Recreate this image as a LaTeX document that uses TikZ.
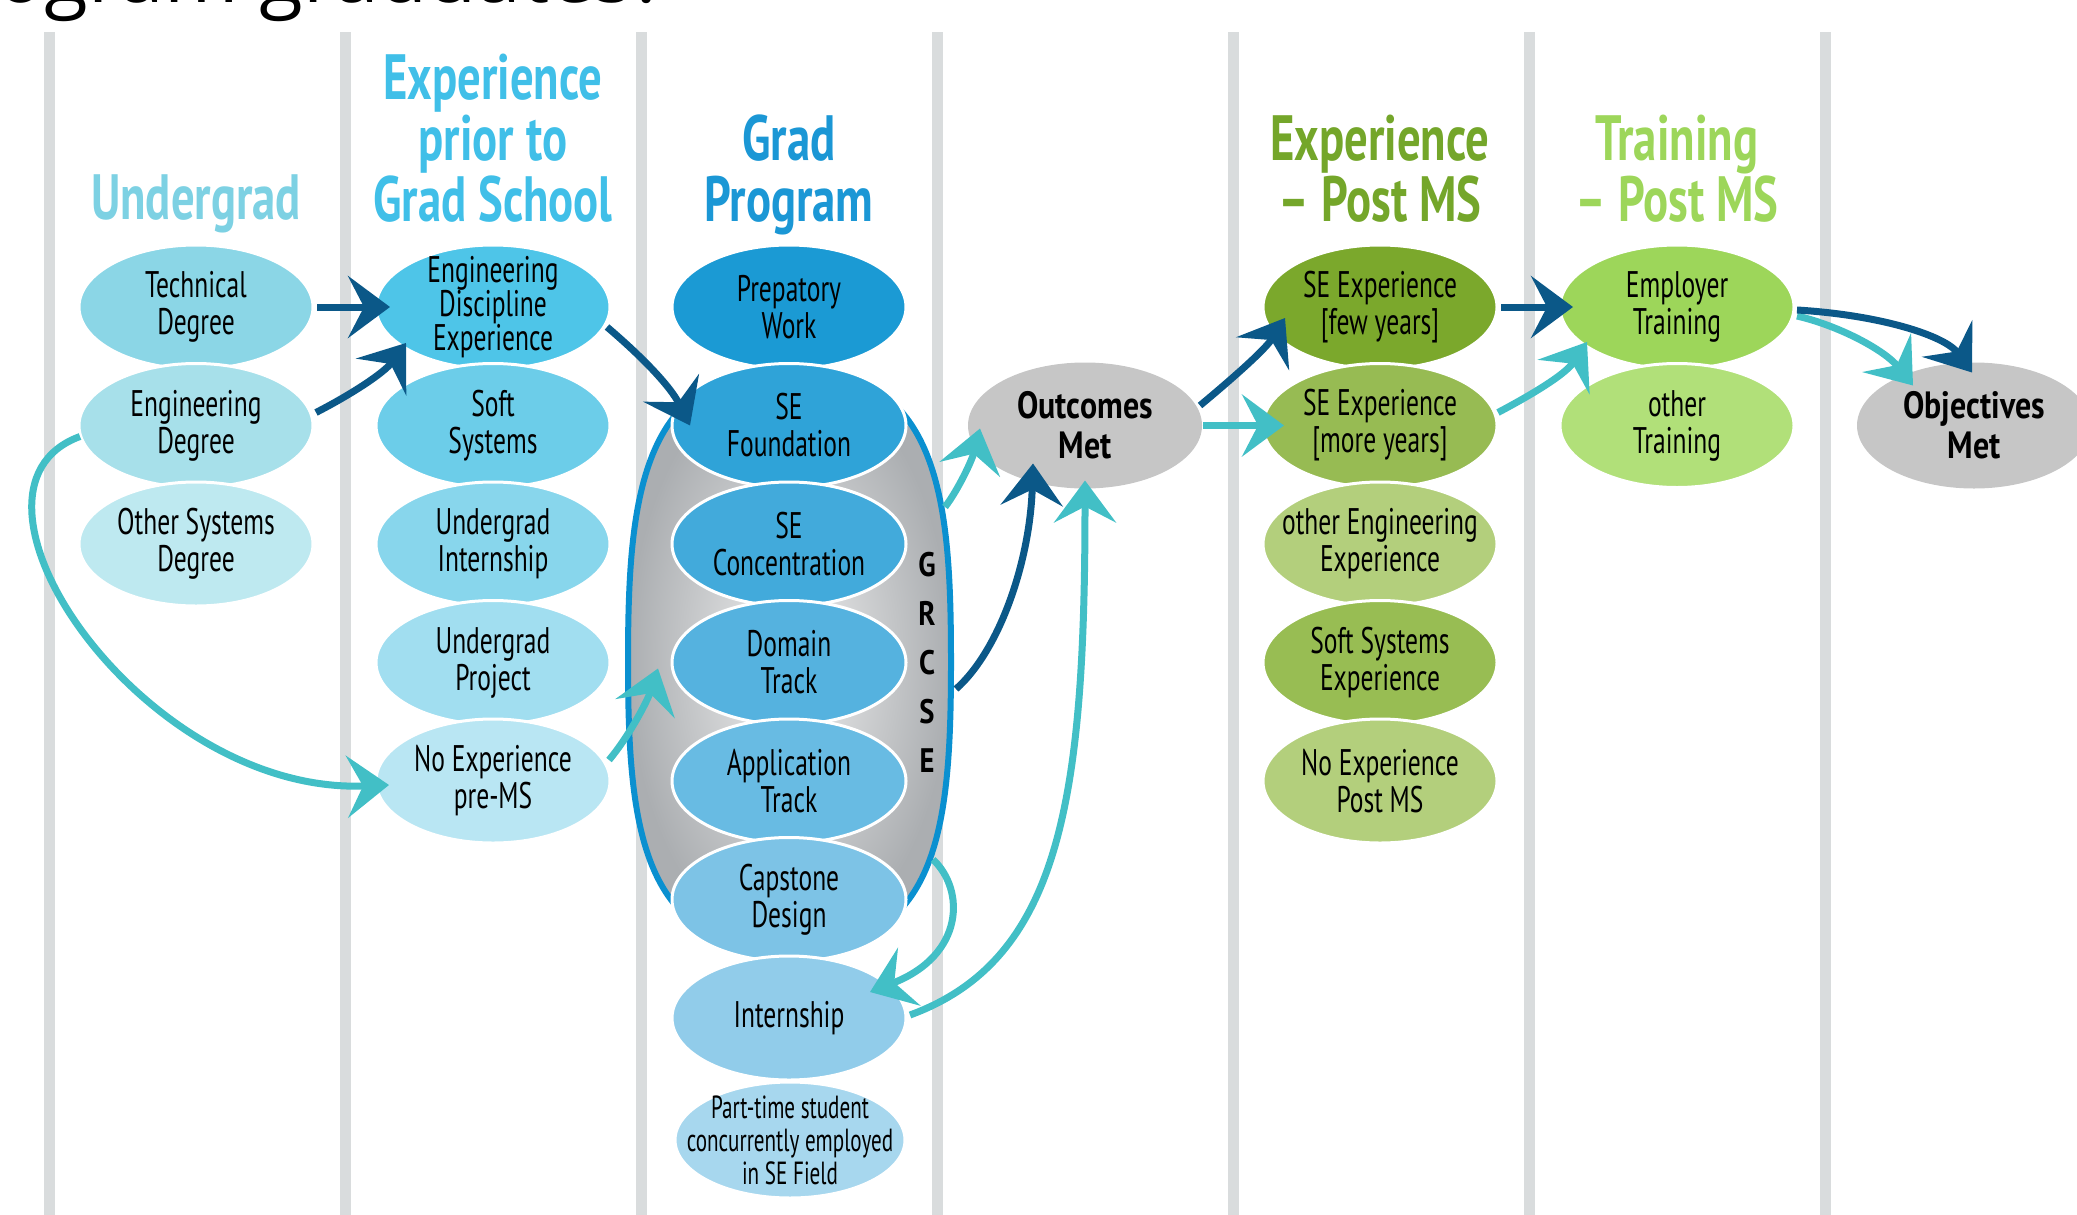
\documentclass[tikz,border=0pt]{standalone}
\usepackage{fontspec}
\setmainfont{PT Sans}[FakeStretch=0.69]
\newfontfamily\headfont{PT Sans}[FakeStretch=0.73]
\newfontfamily\boldfont{PT Sans}[FakeStretch=0.84]
\newfontfamily\tightfont{PT Sans}[FakeStretch=0.66]
\newfontfamily\titlefont{Open Sans}
\usetikzlibrary{shapes.geometric,arrows.meta,calc}

\definecolor{linegray}{HTML}{D9DCDD}
\definecolor{arrdark}{HTML}{0B5888}
\definecolor{arrteal}{HTML}{42BFC6}
\definecolor{hUnder}{HTML}{7DD1E3}
\definecolor{hExpPrior}{HTML}{40BFE8}
\definecolor{hGrad}{HTML}{1B97D5}
\definecolor{hExpPost}{HTML}{74A62A}
\definecolor{hTrain}{HTML}{9DD65A}
\definecolor{cA}{HTML}{8BD6E6}
\definecolor{cB}{HTML}{A7E0EA}
\definecolor{cC}{HTML}{BEE9F0}
\definecolor{dA}{HTML}{4EC5E8}
\definecolor{dB}{HTML}{6CCDE9}
\definecolor{dC}{HTML}{88D6EC}
\definecolor{dD}{HTML}{A1DEF0}
\definecolor{dE}{HTML}{B9E6F3}
\definecolor{eA}{HTML}{1B9AD4}
\definecolor{eB}{HTML}{2FA3D8}
\definecolor{eC}{HTML}{42AADB}
\definecolor{eD}{HTML}{55B2DF}
\definecolor{eE}{HTML}{68BBE3}
\definecolor{eF}{HTML}{7DC3E6}
\definecolor{eG}{HTML}{91CCEA}
\definecolor{eH}{HTML}{A7D7EE}
\definecolor{gA}{HTML}{7BA82C}
\definecolor{gB}{HTML}{97BB53}
\definecolor{gC}{HTML}{B3CF7C}
\definecolor{gD}{HTML}{98BD53}
\definecolor{gE}{HTML}{B3CF7C}
\definecolor{tA}{HTML}{9DD65A}
\definecolor{tB}{HTML}{B1E079}
\definecolor{grayell}{HTML}{C6C6C6}
\definecolor{ctrblue}{HTML}{0A90D0}
\definecolor{ctrin}{HTML}{F0F0F0}
\definecolor{ctrout}{HTML}{ABAEB1}

\begin{document}
\begin{tikzpicture}[x=0.5pt,y=-0.5pt,
  vline/.style={draw=linegray,line width=5.5pt},
  ell/.style={ellipse,draw=white,line width=1.5pt,minimum width=117pt,minimum height=62pt,
    inner xsep=-12pt,inner ysep=-6pt,align=center,text=black,font=\fontsize{18.5}{18.5}\selectfont},
  goal/.style={ellipse,fill=grayell,minimum width=117pt,minimum height=63pt,
    inner xsep=-12pt,inner ysep=-6pt,align=center,text=black,font=\boldfont\bfseries\fontsize{19}{20}\selectfont},
  head/.style={align=center,inner sep=0pt,font=\headfont\bfseries\fontsize{32}{30.5}\selectfont},
  arr/.style={line width=3.5pt,-{Stealth[length=21pt,width=31pt,inset=8pt]}},
  darr/.style={arr,draw=arrdark},
  tarr/.style={arr,draw=arrteal}]

\useasboundingbox (0,0) rectangle (2077,1215);
\clip (0,0) rectangle (2077,1215);

% column separators
\foreach \x in {49,345,641,937,1233,1529,1825}
  \draw[vline] (\x,32) -- (\x,1220);

% cropped title
\node[anchor=base west,inner sep=0pt,font=\titlefont\fontsize{40}{44}\selectfont] (title) at (-4,3) {ogram graduates?};

% headings
\node[head,text=hUnder] (hund) at (196,204) {Undergrad};
\node[head,text=hExpPrior] (hexp) at (493,138) {Experience\\prior to\\Grad School};
\node[head,text=hGrad] (hgrad) at (789,175) {Grad\\Program};
\node[head,text=hExpPost] (hpost) at (1380,169) {Experience\\– Post MS};
\node[head,text=hTrain] (htrain) at (1677,169) {Training\\– Post MS};

% GRCSE container
\path[inner color=ctrin,outer color=ctrout,draw=ctrblue,line width=3pt]
  (790,368) .. controls (940,368) and (951,500) .. (951,662)
  .. controls (951,830) and (938,950) .. (790,950)
  .. controls (642,950) and (628,830) .. (628,662)
  .. controls (628,500) and (640,368) .. (790,368) -- cycle;
\node[inner sep=0pt,align=center,font=\boldfont\bfseries\fontsize{17}{24.5}\selectfont] (grcse) at (927,662) {G\\R\\C\\S\\E};

% column 1
\node[ell,fill=cA] (tech)   at (196,307)   {Technical\\Degree};
\node[ell,fill=cB] (engdeg) at (196,425.5) {Engineering\\Degree};
\node[ell,fill=cC] (othdeg) at (196,544)   {Other Systems\\Degree};

% column 2
\node[ell,fill=dA,font=\fontsize{18.5}{17.2}\selectfont] (ede) at (493,307) {Engineering\\Discipline\\Experience};
\node[ell,fill=dB] (soft)  at (493,425.5) {Soft\\Systems};
\node[ell,fill=dC] (uint)  at (493,544)   {Undergrad\\Internship};
\node[ell,fill=dD] (uproj) at (493,662.5) {Undergrad\\Project};
\node[ell,fill=dE] (noexp) at (493,781)   {No Experience\\pre-MS};

% column 3
\node[ell,fill=eA] (prep)    at (789,307)    {Prepatory\\Work};
\node[ell,fill=eB] (sefound) at (789,425.5)  {SE\\Foundation};
\node[ell,fill=eC] (seconc)  at (789,544)    {SE\\Concentration};
\node[ell,fill=eD] (domain)  at (789,662.5)  {Domain\\Track};
\node[ell,fill=eE] (app)     at (789,781)    {Application\\Track};
\node[ell,fill=eF] (cap)     at (789,899.5)  {Capstone\\Design};
\node[ell,fill=eG] (intern)  at (789,1018)   {Internship};
\node[ell,fill=eH,minimum width=115pt,minimum height=58pt,
      font=\tightfont\fontsize{16}{16.5}\selectfont] (part) at (790,1140)
      {Part-time student\\concurrently employed\\in SE Field};

% outcomes
\node[goal] (outcomes) at (1085,425.5) {Outcomes\\Met};

% column 5
\node[ell,fill=gA] (sefew)     at (1380,307)   {SE Experience\\{[few years]}};
\node[ell,fill=gB] (semore)    at (1380,425.5) {SE Experience\\{[more years]}};
\node[ell,fill=gC] (otheng)    at (1380,544)   {other Engineering\\Experience};
\node[ell,fill=gD] (softexp)   at (1380,662.5) {Soft Systems\\Experience};
\node[ell,fill=gE] (noexppost) at (1380,781)   {No Experience\\Post MS};

% column 6
\node[ell,fill=tA] (emp)      at (1677,307)   {Employer\\Training};
\node[ell,fill=tB] (othtrain) at (1677,425.5) {other\\Training};

% objectives
\node[goal] (objectives) at (1974,425.5) {Objectives\\Met};

% connectors
\draw[darr] ($(tech)+(121,0)$) -- ($(ede)+(-103,0)$);
\draw[darr] ($(engdeg)+(120,-13)$) .. controls +(35,-18) and +(-22,30) .. ($(ede)+(-87,36)$);
\draw[tarr] ($(engdeg)+(-116,11)$) .. controls +(-145,53) and +(-247,10) .. ($(noexp)+(-104,4)$);
\draw[darr] ($(ede)+(114,20)$) .. controls +(33,28) and +(-20,-40) .. ($(sefound)+(-99,0)$);
\draw[tarr] ($(noexp)+(116,-21)$) .. controls +(21,-25) and +(-10,31) .. ($(domain)+(-131,6)$);
\draw[tarr] ($(grcse)+(18,-155)$) .. controls +(13,-17) and +(-8,32) .. ($(outcomes)+(-105,3)$);
\draw[darr] ($(grcse)+(29,27)$) .. controls +(44,-39) and +(-3,97) .. ($(outcomes)+(-52,38)$);
\draw[tarr] ($(intern)+(121,-3)$) .. controls +(150,-55) and +(0,320) .. ($(outcomes)+(0,55)$);
\draw[tarr] ($(cap)+(144,-40)$) .. controls +(32,30) and +(95,-37) .. ($(intern)+(81,-26)$);
\draw[darr] ($(outcomes)+(115,-20)$) .. controls +(30,-25) and +(-20,32) .. ($(sefew)+(-95,11)$);
\draw[tarr] ($(outcomes)+(118,0)$) -- ($(semore)+(-96,0)$);
\draw[darr] ($(sefew)+(121,0)$) -- ($(emp)+(-104,0)$);
\draw[tarr] ($(semore)+(118,-13)$) .. controls +(32,-17) and +(-22,33) .. ($(emp)+(-90,35)$);
\draw[tarr] ($(emp)+(120,9)$) .. controls +(43,10) and +(-28,-35) .. ($(objectives)+(-61,-40)$);
\draw[darr] ($(emp)+(120,3)$) .. controls +(83,5) and +(-27,-37) .. ($(objectives)+(-2,-53)$);

\end{tikzpicture}
\end{document}
